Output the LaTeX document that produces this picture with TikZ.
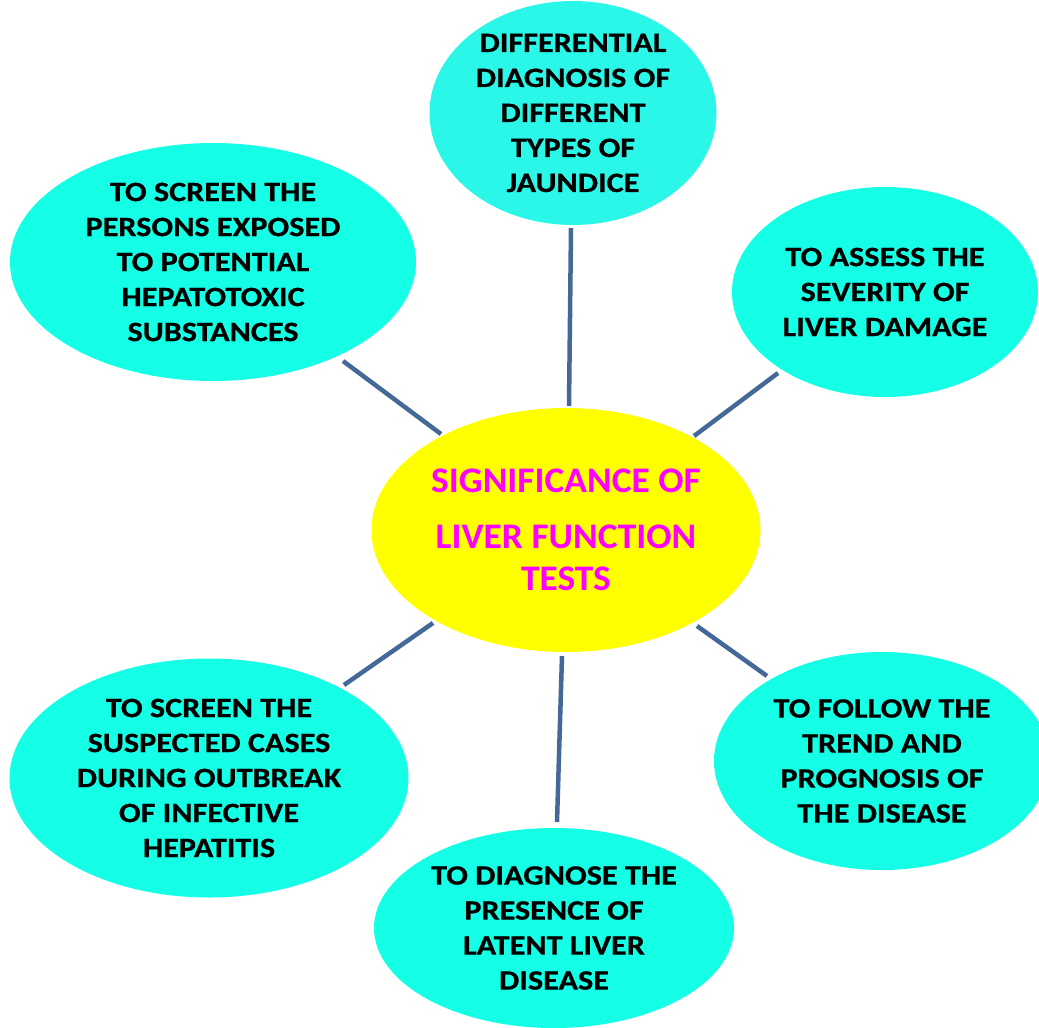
\documentclass[tikz,border=0pt]{standalone}
\usepackage{fontspec}
\setmainfont{Carlito}
\newfontfamily\leaffont{Carlito}[FakeStretch=1.15,FakeBold=0.6]
\newfontfamily\hubfont{Carlito}[FakeStretch=1.04]
\usetikzlibrary{shapes.geometric}
\definecolor{cyanA}{RGB}{20,255,230}
\definecolor{cyanB}{RGB}{42,247,232}
\definecolor{hubyellow}{RGB}{255,255,0}
\definecolor{hubmagenta}{RGB}{255,0,255}
\definecolor{linkblue}{RGB}{68,104,152}
\tikzset{
  leaf/.style={ellipse, fill=cyanA, inner sep=0pt, align=center,
    font=\leaffont\fontsize{28}{35}\selectfont\bfseries, text=black},
  hub/.style={ellipse, fill=hubyellow, inner sep=0pt, align=center,
    font=\hubfont\fontsize{36}{42}\selectfont\bfseries, text=hubmagenta},
  link/.style={draw=linkblue, line width=4.5pt}
}
\begin{document}
\begin{tikzpicture}[x=1pt,y=-1pt]
\useasboundingbox (0,0) rectangle (1039,1028);
\clip (0,0) rectangle (1039,1028);
\node[leaf, fill=cyanB, minimum width=287pt, minimum height=216pt] (diff) at (573,113)
  {DIFFERENTIAL\\DIAGNOSIS OF\\DIFFERENT\\TYPES OF\\JAUNDICE};
\node[leaf, minimum width=406pt, minimum height=238pt] (screen) at (213,262)
  {TO SCREEN THE\\PERSONS EXPOSED\\TO POTENTIAL\\HEPATOTOXIC\\SUBSTANCES};
\node[leaf, minimum width=306pt, minimum height=210pt] (assess) at (885,292)
  {TO ASSESS THE\\SEVERITY OF\\LIVER DAMAGE};
\node[hub, minimum width=389pt, minimum height=244pt] (hub) at (566,530)
  {SIGNIFICANCE OF\\[14pt]LIVER FUNCTION\\TESTS};
\node[leaf, minimum width=399pt, minimum height=239pt] (outbreak) at (209,778)
  {TO SCREEN THE\\SUSPECTED CASES\\DURING OUTBREAK\\OF INFECTIVE\\HEPATITIS};
\node[leaf, minimum width=360pt, minimum height=200pt] (latent) at (554,928)
  {TO DIAGNOSE THE\\PRESENCE OF\\LATENT LIVER\\DISEASE};
\node[leaf, minimum width=336pt, minimum height=218pt] (trend) at (882,761)
  {TO FOLLOW THE\\TREND AND\\PROGNOSIS OF\\THE DISEASE};
% connector end points
\coordinate (h1) at (569,406); \coordinate (d1) at (571,228);
\coordinate (h2) at (441,434); \coordinate (s2) at (343,361);
\coordinate (h3) at (694,436); \coordinate (a3) at (778,373);
\coordinate (h4) at (433,623); \coordinate (o4) at (344,685);
\coordinate (h5) at (562,656); \coordinate (l5) at (557,822);
\coordinate (h6) at (697,626); \coordinate (t6) at (767,676);
\draw[link] (h1) -- (d1);
\draw[link] (h2) -- (s2);
\draw[link] (h3) -- (a3);
\draw[link] (h4) -- (o4);
\draw[link] (h5) -- (l5);
\draw[link] (h6) -- (t6);
\end{tikzpicture}
\end{document}
